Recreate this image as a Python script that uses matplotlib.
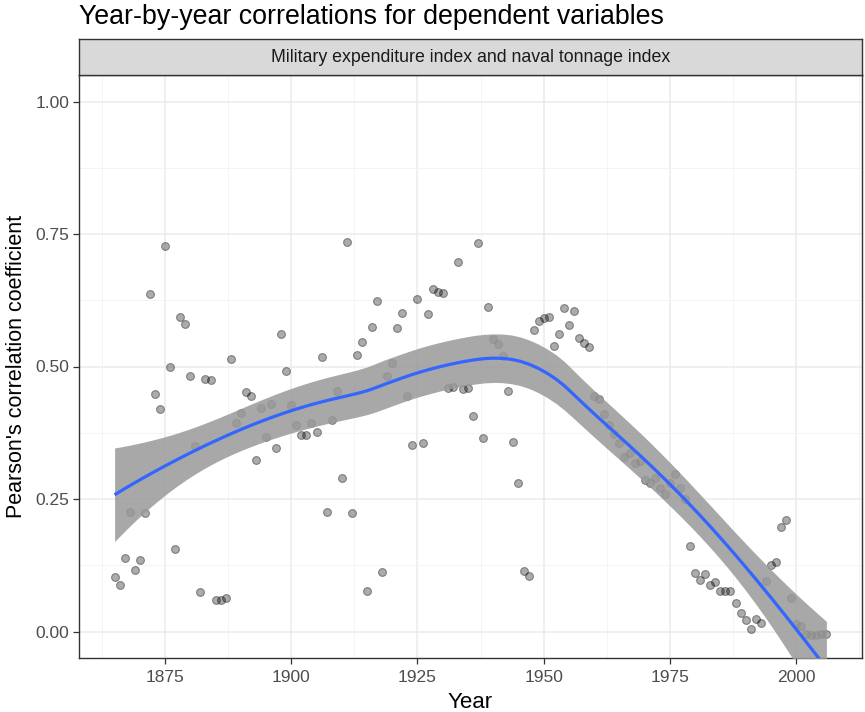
import numpy as np
import matplotlib
matplotlib.use("Agg")
import matplotlib.pyplot as plt

plt.rcParams['font.family'] = ['Liberation Sans', 'DejaVu Sans']

years = list(range(1865, 2007))
corr = [
    0.102, 0.087, 0.139, 0.225, 0.116, 0.135, 0.223, 0.637, 0.449, 0.419,   # 1865-1874
    0.727, 0.499, 0.156, 0.594, 0.580, 0.482, 0.350, 0.075, 0.477, 0.474,   # 1875-1884
    0.059, 0.059, 0.064, 0.514, 0.394, 0.413, 0.451, 0.445, 0.323, 0.422,   # 1885-1894
    0.367, 0.430, 0.346, 0.561, 0.492, 0.428, 0.389, 0.370, 0.370, 0.394,   # 1895-1904
    0.377, 0.517, 0.226, 0.400, 0.453, 0.290, 0.735, 0.224, 0.522, 0.547,   # 1905-1914
    0.076, 0.574, 0.623, 0.113, 0.482, 0.506, 0.573, 0.601, 0.444, 0.351,   # 1915-1924
    0.628, 0.355, 0.599, 0.646, 0.641, 0.638, 0.459, 0.462, 0.697, 0.457,   # 1925-1934
    0.459, 0.406, 0.733, 0.365, 0.612, 0.552, 0.542, 0.519, 0.453, 0.357,   # 1935-1944
    0.280, 0.114, 0.104, 0.569, 0.586, 0.592, 0.594, 0.539, 0.561, 0.611,   # 1945-1954
    0.578, 0.605, 0.554, 0.545, 0.536, 0.445, 0.439, 0.410, 0.390, 0.372,   # 1955-1964
    0.355, 0.330, 0.337, 0.318, 0.321, 0.285, 0.281, 0.290, 0.270, 0.260,   # 1965-1974
    0.280, 0.298, 0.270, 0.250, 0.161, 0.110, 0.098, 0.109, 0.087, 0.093,   # 1975-1984
    0.076, 0.076, 0.076, 0.054, 0.034, 0.022, 0.004, 0.023, 0.016, 0.096,   # 1985-1994
    0.126, 0.131, 0.198, 0.211, 0.064, 0.015, 0.010, -0.005, -0.006, -0.006, # 1995-2004
    -0.005, -0.005,                                                          # 2005-2006
]

title = "Year-by-year correlations for dependent variables"
strip_label = "Military expenditure index and naval tonnage index"
x_label = "Year"
y_label = "Pearson's correlation coefficient"
x_ticks = [1875, 1900, 1925, 1950, 1975, 2000]
y_ticks = [0.0, 0.25, 0.5, 0.75, 1.0]


def loess_fit(x, y, xnew, span=0.75):
    """Local quadratic regression with tricube weights (like R loess)."""
    x = np.asarray(x, float)
    y = np.asarray(y, float)
    n = len(x)
    q = int(np.floor(n * span))

    def operator(points):
        L = np.zeros((len(points), n))
        for i, x0 in enumerate(points):
            d = np.abs(x - x0)
            h = np.sort(d)[q - 1]
            u = np.clip(d / h, 0, 1)
            w = (1 - u ** 3) ** 3
            X = np.column_stack([np.ones(n), x - x0, (x - x0) ** 2])
            XtW = X.T * w
            A = np.linalg.pinv(XtW @ X) @ XtW
            L[i] = A[0]
        return L

    Ld = operator(x)
    res = y - Ld @ y
    IL = np.eye(n) - Ld
    M = IL.T @ IL
    d1 = np.trace(M)
    d2 = np.trace(M @ M)
    s = np.sqrt(np.sum(res ** 2) / d1)
    df = d1 ** 2 / d2
    Ln = operator(xnew)
    fit = Ln @ y
    se = s * np.sqrt(np.sum(Ln ** 2, axis=1))
    z = 1.959964
    t = z + (z ** 3 + z) / (4 * df) + (5 * z ** 5 + 16 * z ** 3 + 3 * z) / (96 * df ** 2)
    return fit, fit - t * se, fit + t * se


xs = np.linspace(min(years), max(years), 80)
fit, lo, hi = loess_fit(years, corr, xs)

W, H = 865, 712
fig = plt.figure(figsize=(W / 100, H / 100), dpi=100)
left, right, top, bottom = 79, 862, 75, 658
ax = fig.add_axes([left / W, 1 - bottom / H, (right - left) / W, (bottom - top) / H])

ax.set_facecolor('white')
ax.scatter(years, corr, s=32, facecolor=(0, 0, 0, 0.33), edgecolor=(0, 0, 0, 0.38),
           linewidths=0.8, zorder=3)
ax.fill_between(xs, lo, hi, color='#999999', alpha=0.85, linewidth=0, zorder=4)
ax.plot(xs, fit, color='#3366FF', linewidth=2.3, zorder=5, solid_capstyle='butt')

xr = max(years) - min(years)
ax.set_xlim(min(years) - 0.05 * xr, max(years) + 0.05 * xr)
ax.set_ylim(-0.05, 1.05)

ax.set_xticks(x_ticks)
ax.set_xticks([v + 12.5 for v in [1850] + x_ticks], minor=True)
ax.set_yticks(y_ticks)
ax.set_yticklabels([f"{v:.2f}" for v in y_ticks])
ax.set_yticks([0.125, 0.375, 0.625, 0.875], minor=True)

ax.grid(True, which='major', color='#EBEBEB', linewidth=1.1, zorder=0)
ax.grid(True, which='minor', color='#F2F2F2', linewidth=0.6, zorder=0)
ax.set_axisbelow(True)

for sp in ax.spines.values():
    sp.set_color('#333333')
    sp.set_linewidth(1.0)

ax.tick_params(axis='both', which='major', length=4, width=0.9, color='#333333',
               labelcolor='#4D4D4D', labelsize=12.5, pad=3)
ax.tick_params(axis='x', which='major', pad=5)
ax.tick_params(axis='both', which='minor', length=0)

ax.set_xlabel(x_label, fontsize=16, color='black', labelpad=5)
ax.set_ylabel(y_label, fontsize=15.5, color='black', labelpad=6)

# facet strip
strip_top = 39
sax = fig.add_axes([left / W, 1 - top / H, (right - left) / W, (top - strip_top) / H])
sax.set_facecolor('#D9D9D9')
sax.set_xticks([])
sax.set_yticks([])
for sp in sax.spines.values():
    sp.set_color('#333333')
    sp.set_linewidth(1.0)
sax.text(0.5, 0.5, strip_label, ha='center', va='center', fontsize=12.8,
         color='#1A1A1A', transform=sax.transAxes)

fig.text(left / W, 1 - 24 / H, title, ha='left', va='baseline', fontsize=19.3, color='black')

fig.savefig('out.png', dpi=100)
